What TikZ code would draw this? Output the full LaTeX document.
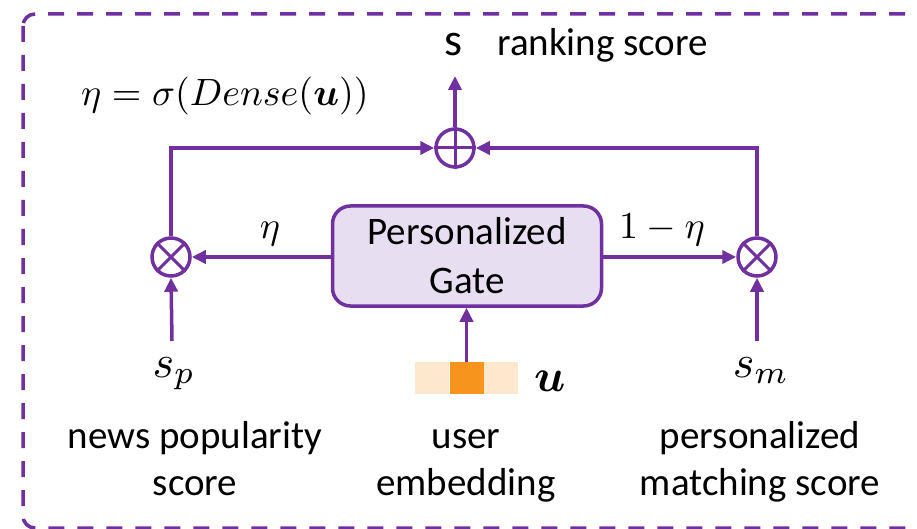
\documentclass[tikz,border=0pt]{standalone}
\usepackage{fontspec}
\setmainfont{Carlito}
\usepackage{amsmath,bm,graphicx}
\usetikzlibrary{arrows.meta}

\definecolor{gatepurple}{HTML}{7030A0}
\definecolor{gatefill}{HTML}{E8DEF2}
\definecolor{embpale}{HTML}{FDE8CD}
\definecolor{embhot}{HTML}{F7941E}

% math set at a normal size and enlarged
\newcommand{\bigmath}[1]{\scalebox{3.8}{$#1$}}
\newcommand{\hugemath}[1]{\scalebox{4.6}{$#1$}}

\tikzset{
  flow/.style={draw=gatepurple, line width=3.5pt,
    -{Triangle[length=14pt,width=13pt]}},
  wire/.style={draw=gatepurple, line width=3.5pt},
  opcircle/.style={circle, draw=gatepurple, line width=3.5pt,
    minimum size=38pt, inner sep=0pt},
  gatebox/.style={draw=gatepurple, fill=gatefill, line width=3.5pt,
    rounded corners=18pt, minimum width=269pt, minimum height=100pt,
    inner sep=0pt, align=center, font=\fontsize{39}{49}\selectfont},
  label/.style={inner sep=0pt, align=center, font=\fontsize{39}{47}\selectfont},
  mathlabel/.style={inner sep=0pt, font=\normalsize},
  embcell/.style={minimum width=34pt, minimum height=32pt, inner sep=0pt},
  frame/.style={draw=gatepurple, line width=3.5pt, dash pattern=on 16pt off 13pt,
    rounded corners=12pt},
}

\begin{document}
\begin{tikzpicture}[x=1pt, y=-1pt]
  \useasboundingbox (0,0) rectangle (917,529);
  \clip (0,0) rectangle (917,529);

  % dashed outer frame
  \draw[frame] (23,14) rectangle (950,528);

  % operators
  \node[opcircle] (plus) at (455,148) {};
  \draw[wire, line width=3pt] (plus.north) -- (plus.south) (plus.west) -- (plus.east);
  \node[opcircle] (ml) at (171,257) {};
  \draw[wire, line width=3pt] (ml.north east) -- (ml.south west) (ml.north west) -- (ml.south east);
  \node[opcircle] (mr) at (757,257) {};
  \draw[wire, line width=3pt] (mr.north east) -- (mr.south west) (mr.north west) -- (mr.south east);

  % gate
  \node[gatebox] (gate) at (467,256) {Personalized\\Gate};

  % user embedding
  \node[embcell, fill=embpale] (e1) at (432,378) {};
  \node[embcell, fill=embhot]  (e2) at (466.5,378) {};
  \node[embcell, fill=embpale] (e3) at (501,378) {};
  \node[mathlabel, anchor=base west] (uvec) at (534,391) {\hugemath{\bm{u}}};

  % output
  \node[mathlabel, anchor=base] (s) at (453,56) {\hugemath{\mathrm{s}}};
  \node[label, anchor=base west] (rank) at (497,56) {ranking score};
  \coordinate (stip) at (455,76);
  \node[mathlabel, anchor=base west] (eq) at (81,106) {\bigmath{\eta=\sigma(Dense(\bm{u}))}};

  % inputs
  \node[mathlabel, anchor=base] (sp) at (174,377) {\hugemath{s_p}};
  \node[mathlabel, anchor=base] (sm) at (761,377) {\hugemath{s_m}};
  \coordinate (spin) at (172,341);
  \coordinate (smin) at (757,341);

  % weights
  \node[mathlabel, anchor=base] (eta) at (270,238) {\bigmath{\eta}};
  \node[mathlabel, anchor=base] (oneeta) at (662,238) {\bigmath{1-\eta}};

  % captions (base = last line)
  \node[label, anchor=base] (cap1) at (195,495) {news popularity\\score};
  \node[label, anchor=base] (cap2) at (466,495) {user\\embedding};
  \node[label, anchor=base] (cap3) at (760,495) {personalized\\matching score};

  % connectors
  \draw[flow] (plus.north) -- (stip);
  \draw[flow] (ml.north) |- (plus.west);
  \draw[flow] (mr.north) |- (plus.east);
  \draw[flow] (gate.west |- ml.east) -- (ml.east);
  \draw[flow] (gate.east |- mr.west) -- (mr.west);
  \draw[flow] (spin) -- (ml.south);
  \draw[flow] (smin) -- (mr.south);
  \draw[flow] (e2.north) -- (e2.north |- gate.south);
\end{tikzpicture}
\end{document}
